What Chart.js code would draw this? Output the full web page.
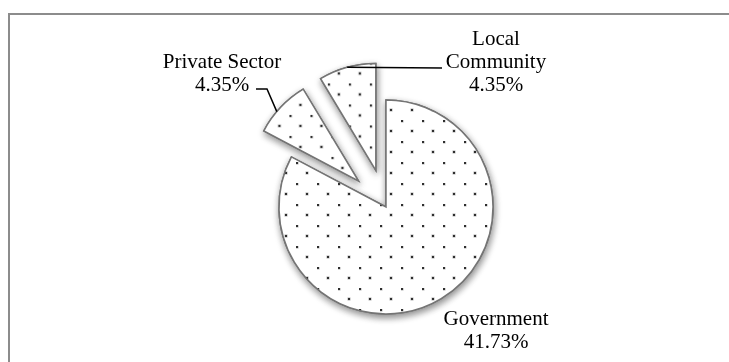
<!DOCTYPE html>
<html>
<head>
<meta charset="utf-8">
<script src="https://cdn.jsdelivr.net/npm/chart.js@4.4.1/dist/chart.umd.min.js"></script>
<style>
    html, body { margin: 0; padding: 0; background: #fff; }
    #marco {
        position: absolute; left: 8px; top: 13px; width: 721px; height: 349px;
        border-top: 2px solid #8c8c8c; border-left: 2px solid #8c8c8c; box-sizing: border-box;
    }
    #grafica { position: absolute; left: 0; top: 0; }
</style>
</head>
<body>
<div id="marco"></div>
<canvas id="grafica" width="729" height="362"></canvas>
<script>
// datos del grafico
const categorias = ['Government', 'Private Sector', 'Local Community'];
const porcentajes = [41.73, 4.35, 4.35];
const lineasNombre = [['Government'], ['Private Sector'], ['Local', 'Community']];

// separacion de las porciones respecto al centro (px)
const explosion = [0, 38, 38];

// ubicacion de los rotulos respecto al centro del pastel
const posRotulos = [
    { dx: 110, dy: 118 },
    { dx: -164, dy: -139, guia: { t: 0.4, puntos: [[-119, -118], [-130, -118]] } },
    { dx: 110, dy: -162, guia: { t: 0.5, puntos: [[56, -139]] } }
];
const interlineado = 23;

function crearTrama(ctx) {
    const t = document.createElement('canvas');
    t.width = 21; t.height = 21;
    const g = t.getContext('2d');
    g.fillStyle = '#fff';
    g.fillRect(0, 0, 21, 21);
    // punto oscuro con un leve halo gris
    [[0, 0], [10, 10]].forEach(([x, y]) => {
        g.fillStyle = '#b0b0b0';
        g.fillRect(x - 0.5, y - 0.5, 3, 3);
        g.fillStyle = '#2e2e2e';
        g.fillRect(x, y, 2, 2);
    });
    const p = ctx.createPattern(t, 'repeat');
    p.setTransform(new DOMMatrix([1, 0, 0, 1, 2, 15]));
    return p;
}

// dibuja las porciones desplazadas, primero la sombra y luego el relleno
const explotar = {
    id: 'explotar',
    beforeDatasetDraw(chart, args) {
        const ctx = chart.ctx;
        const arcos = args.meta.data;
        [true, false].forEach(conSombra => {
            arcos.forEach((arc, i) => {
                const d = explosion[i] || 0;
                const medio = (arc.startAngle + arc.endAngle) / 2;
                ctx.save();
                ctx.translate(Math.cos(medio) * d, Math.sin(medio) * d);
                if (conSombra) {
                    ctx.shadowColor = 'rgba(0, 0, 0, 0.45)';
                    ctx.shadowBlur = 7;
                    ctx.shadowOffsetX = 1;
                    ctx.shadowOffsetY = 3;
                }
                arc.draw(ctx);
                ctx.restore();
            });
        });
        return false;
    }
};

const rotulos = {
    id: 'rotulos',
    afterDatasetsDraw(chart) {
        const ctx = chart.ctx;
        const arcos = chart.getDatasetMeta(0).data;
        const cx = arcos[0].x, cy = arcos[0].y, R = arcos[0].outerRadius;
        ctx.save();
        ctx.font = '21px "Liberation Serif", "Times New Roman", serif';
        ctx.fillStyle = '#000';
        ctx.strokeStyle = '#000';
        ctx.lineWidth = 1.5;
        ctx.textAlign = 'center';
        arcos.forEach((arc, i) => {
            const pos = posRotulos[i];
            const lineas = [...lineasNombre[i], porcentajes[i].toFixed(2) + '%'];
            lineas.forEach((txt, k) => ctx.fillText(txt, cx + pos.dx, cy + pos.dy + k * interlineado));
            if (pos.guia) {
                const d = explosion[i] || 0;
                const medio = (arc.startAngle + arc.endAngle) / 2;
                const a = arc.startAngle + (arc.endAngle - arc.startAngle) * pos.guia.t;
                ctx.beginPath();
                ctx.moveTo(cx + Math.cos(medio) * d + Math.cos(a) * R, cy + Math.sin(medio) * d + Math.sin(a) * R);
                pos.guia.puntos.forEach(([px, py]) => ctx.lineTo(cx + px, cy + py));
                ctx.stroke();
            }
        });
        ctx.restore();
    }
};

const canvas = document.getElementById('grafica');
const ctx = canvas.getContext('2d');

new Chart(ctx, {
    type: 'pie',
    data: {
        labels: categorias,
        datasets: [{
            data: porcentajes,
            backgroundColor: crearTrama(ctx),
            borderColor: '#747474',
            borderWidth: 1.5,
            borderJoinStyle: 'miter',
            hoverOffset: 0
        }]
    },
    options: {
        responsive: false,
        animation: false,
        events: [],
        radius: 107,
        layout: { padding: { left: 43, top: 52, right: 0, bottom: 0 } },
        plugins: { legend: { display: false }, tooltip: { enabled: false } }
    },
    plugins: [explotar, rotulos]
});
</script>
</body>
</html>
